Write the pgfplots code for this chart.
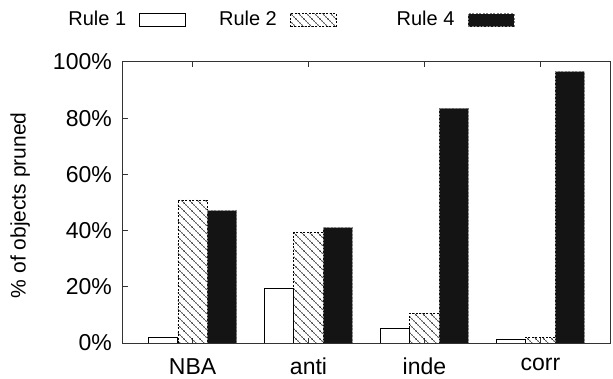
\documentclass[border=0pt]{standalone}
\usepackage{fontspec}
\setmainfont{Liberation Sans}
\usepackage{pgfplots}
\pgfplotsset{compat=1.18}
\usetikzlibrary{patterns}

% dashed diagonal hatching for the Rule 2 bars
\pgfdeclarepatternformonly{dashhatch}{\pgfpoint{-1bp}{-1bp}}{\pgfpoint{9bp}{9bp}}{\pgfpoint{8bp}{8bp}}{%
  \pgfsetlinewidth{0.8bp}%
  \pgfsetdash{{1.6bp}{1.2bp}}{0bp}%
  \pgfpathmoveto{\pgfpoint{-0.5bp}{8.5bp}}%
  \pgfpathlineto{\pgfpoint{8.5bp}{-0.5bp}}%
  \pgfusepath{stroke}%
}

% legend sample: text, then a box, then the gap before the next entry
\pgfplotsset{
  box sample/.style={legend image code/.code={%
    \path[##1, draw opacity=0, fill opacity=0] (0bp,0bp) -- (#1,0bp);
    \draw[##1] (13bp,-6.5bp) rectangle (59bp,6.5bp);}},
}

\begin{document}
\fontsize{21bp}{25bp}\selectfont
\begin{tikzpicture}
\begin{axis}[
  at={(0,0)}, anchor=south west,
  scale only axis,
  width=487bp, height=281bp,
  ybar=0pt, bar width=29.3bp,
  xmin=-0.6, xmax=3.6,
  ymin=0, ymax=100,
  xtick={0,1,2,3},
  xticklabels={NBA,anti,inde,corr},
  ytick={0,20,40,60,80,100},
  yticklabel={\pgfmathprintnumber{\tick}\%},
  /pgf/number format/assume math mode=true,
  tick align=inside,
  xtick pos=both,
  ytick pos=left,
  major tick length=5bp,
  axis line style={black!80, line width=1bp},
  every tick/.style={black!80, line width=1bp},
  tick label style={font=\fontsize{23bp}{27bp}\selectfont},
  yticklabel style={inner sep=0pt, xshift=-11bp},
  xticklabel style={inner sep=0pt, yshift=-15bp},
  ylabel={\% of objects pruned},
  every axis y label/.style={at={(axis description cs:-0.211,0.49)}, rotate=90, anchor=center},
  legend plot pos=right,
  legend columns=3,
  box sample=119bp,
  legend style={draw=none, fill=none, inner sep=0pt,
    font=\fontsize{20bp}{24bp}\selectfont,
    nodes={inner sep=0pt},
    column sep=0pt,
    at={(axis description cs:-0.1126,1.149)}, anchor=west},
]
\addplot[draw=black, line width=0.9bp, fill=white, box sample=92bp]
  coordinates {(0,1.8) (1,19.4) (2,5.3) (3,1.2)};
\addlegendentry{Rule 1}
\addplot[draw=black, line width=0.8bp, dash pattern=on 2bp off 1.5bp, pattern=dashhatch, pattern color=black!85] coordinates {(0,50.9) (1,39.2) (2,10.6) (3,2.0)};
\addlegendentry{Rule 2}
\addplot[draw=black!50, line width=0.8bp, dash pattern=on 2bp off 1.5bp, fill=black!92] coordinates {(0,47.1) (1,41.1) (2,83.5) (3,96.6)};
\addlegendentry{Rule 4}
\end{axis}
\pgfresetboundingbox
\path[use as bounding box] (-123bp,-36bp) rectangle (490bp,343bp);
\end{tikzpicture}
\end{document}
